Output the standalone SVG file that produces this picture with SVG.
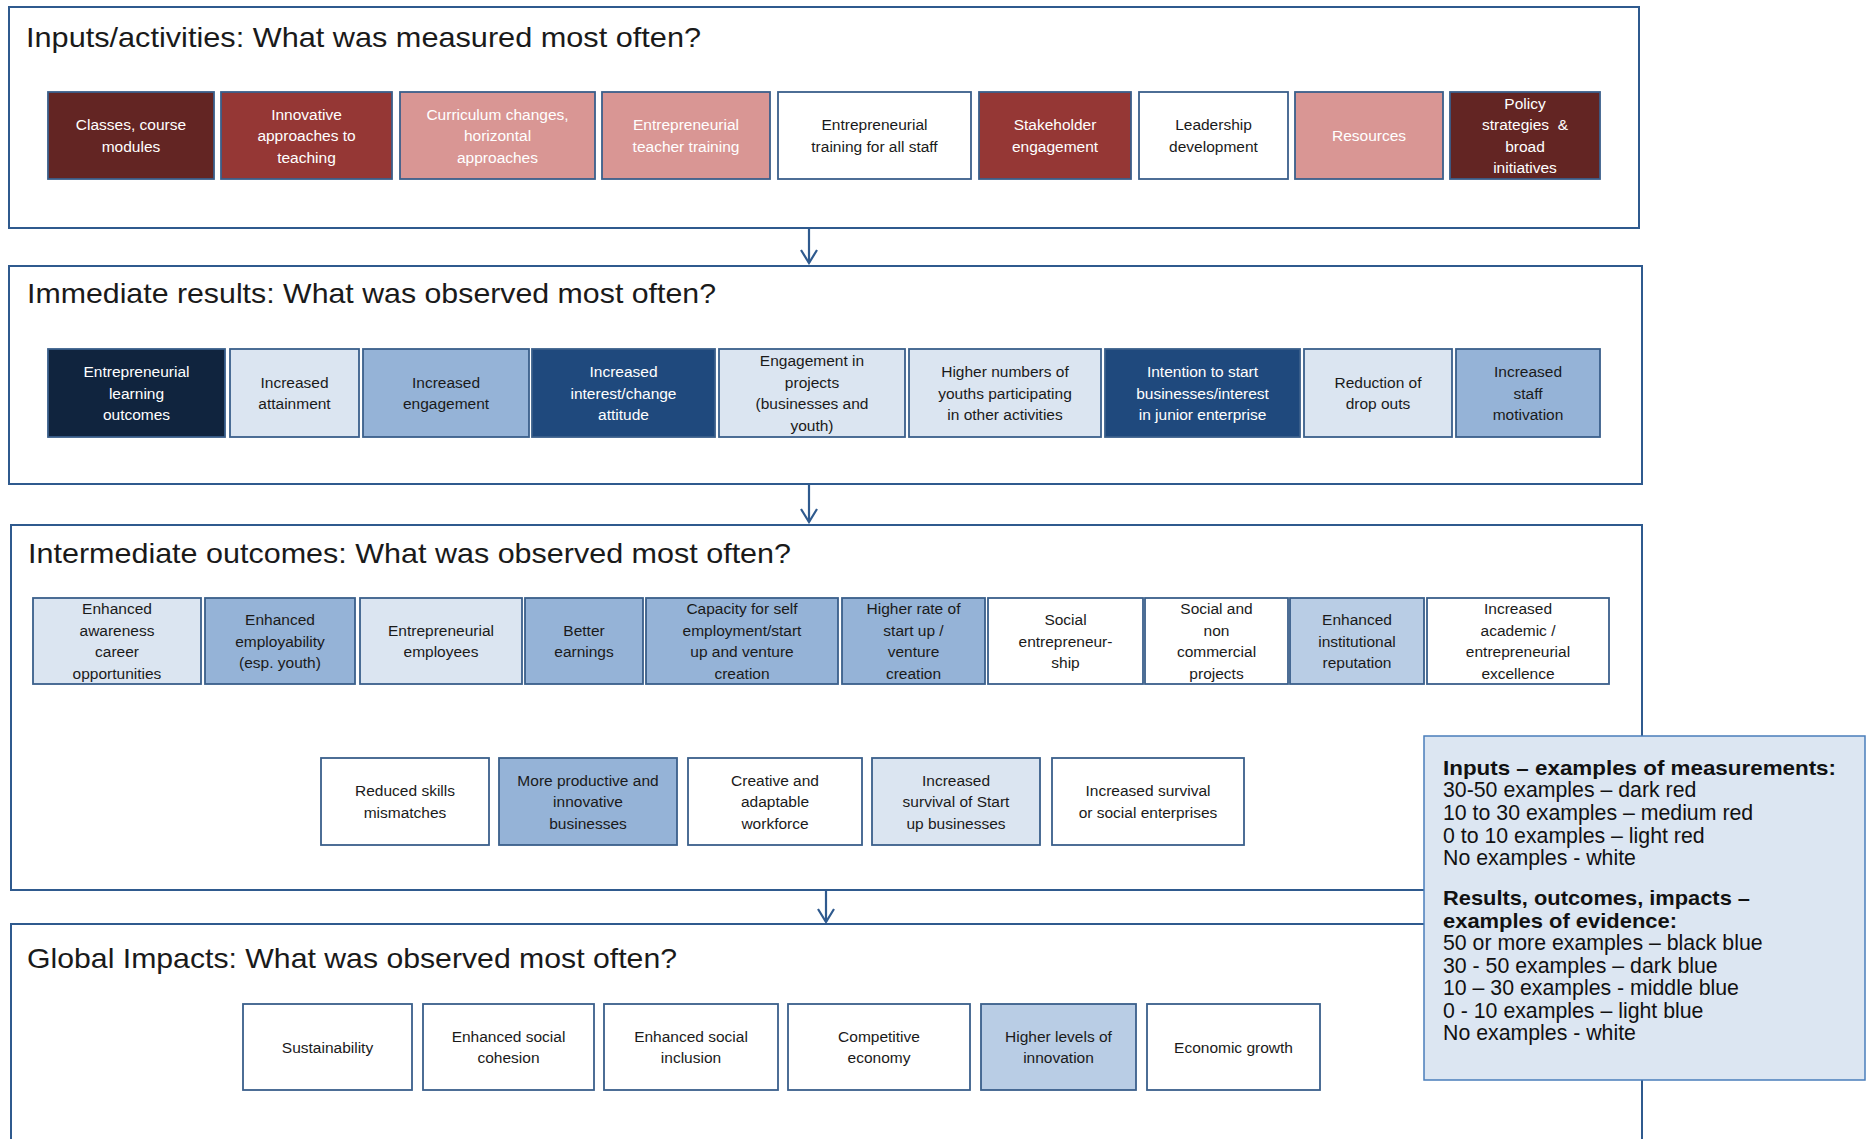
<svg xmlns="http://www.w3.org/2000/svg" width="1869" height="1139" viewBox="0 0 1869 1139">
<style>
.panel{fill:#fff;stroke:#2f5a8e;stroke-width:2}
.box{stroke:#3a5f8b;stroke-width:1.8}
.dr{fill:#632523}.mr{fill:#953735}.lr{fill:#d99694}.w{fill:#fff}
.bb{fill:#10243e}.db{fill:#1f497d}.mb{fill:#95b3d7}.lb{fill:#dbe5f1}.lb2{fill:#b9cde5}
.t{font-family:"Liberation Sans",Arial,sans-serif;font-size:15.5px;text-anchor:middle}
.tw{fill:#fff}.tk{fill:#1a1a1a}
.title{font-family:"Liberation Sans",Arial,sans-serif;font-size:28px;fill:#1a1a1a}
.conn{stroke:#2f5a8e;stroke-width:2.2;fill:none}
.leg{font-family:"Liberation Sans",Arial,sans-serif;font-size:21.3px;fill:#111}
.legb{font-weight:bold;font-size:21px}
</style>
<defs>
<marker id="arr" viewBox="0 0 16 18" refX="14" refY="9" markerWidth="16" markerHeight="18" markerUnits="userSpaceOnUse" orient="auto">
<path d="M1,1 L14,9 L1,17" fill="none" stroke="#2f5a8e" stroke-width="2.2"/>
</marker>
</defs>
<rect width="1869" height="1139" fill="#fff"/>

<g id="panels">
<g id="panel-inputs"><rect class="panel" x="9" y="7" width="1630" height="221"/><text class="title" x="26" y="47" textLength="675" lengthAdjust="spacingAndGlyphs">Inputs/activities: What was measured most often?</text></g>
<g id="panel-immediate"><rect class="panel" x="9" y="266" width="1633" height="218"/><text class="title" x="27" y="303" textLength="689" lengthAdjust="spacingAndGlyphs">Immediate results: What was observed most often?</text></g>
<g id="panel-intermediate"><rect class="panel" x="11" y="525" width="1631" height="365"/><text class="title" x="28" y="563" textLength="763" lengthAdjust="spacingAndGlyphs">Intermediate outcomes: What was observed most often?</text></g>
<g id="panel-global"><rect class="panel" x="11" y="924" width="1631" height="240"/><text class="title" x="27" y="968" textLength="650" lengthAdjust="spacingAndGlyphs">Global Impacts: What was observed most often?</text></g>
</g>

<g id="connectors">
<path class="conn" d="M809,228 L809,263" marker-end="url(#arr)"/>
<path class="conn" d="M809,484 L809,522" marker-end="url(#arr)"/>
<path class="conn" d="M826,890 L826,922" marker-end="url(#arr)"/>
</g>

<!-- Row 1 -->
<g id="n1-1"><rect class="box dr" x="48" y="92" width="166" height="87"/><text class="t tw" x="131" y="130.25">Classes, course<tspan x="131" dy="21.5">modules</tspan></text></g>
<g id="n1-2"><rect class="box mr" x="221" y="92" width="171" height="87"/><text class="t tw" x="306.5" y="119.5">Innovative<tspan x="306.5" dy="21.5">approaches to</tspan><tspan x="306.5" dy="21.5">teaching</tspan></text></g>
<g id="n1-3"><rect class="box lr" x="400" y="92" width="195" height="87"/><text class="t tw" x="497.5" y="119.5">Curriculum changes,<tspan x="497.5" dy="21.5">horizontal</tspan><tspan x="497.5" dy="21.5">approaches</tspan></text></g>
<g id="n1-4"><rect class="box lr" x="602" y="92" width="168" height="87"/><text class="t tw" x="686" y="130.25">Entrepreneurial<tspan x="686" dy="21.5">teacher training</tspan></text></g>
<g id="n1-5"><rect class="box w" x="778" y="92" width="193" height="87"/><text class="t tk" x="874.5" y="130.25">Entrepreneurial<tspan x="874.5" dy="21.5">training for all staff</tspan></text></g>
<g id="n1-6"><rect class="box mr" x="979" y="92" width="152" height="87"/><text class="t tw" x="1055" y="130.25">Stakeholder<tspan x="1055" dy="21.5">engagement</tspan></text></g>
<g id="n1-7"><rect class="box w" x="1139" y="92" width="149" height="87"/><text class="t tk" x="1213.5" y="130.25">Leadership<tspan x="1213.5" dy="21.5">development</tspan></text></g>
<g id="n1-8"><rect class="box lr" x="1295" y="92" width="148" height="87"/><text class="t tw" x="1369" y="141">Resources</text></g>
<g id="n1-9"><rect class="box dr" x="1450" y="92" width="150" height="87"/><text class="t tw" x="1525" y="108.75">Policy<tspan x="1525" dy="21.5">strategies&#160; &amp;</tspan><tspan x="1525" dy="21.5">broad</tspan><tspan x="1525" dy="21.5">initiatives</tspan></text></g>

<!-- Row 2 -->
<g id="n2-1"><rect class="box bb" x="48" y="349" width="177" height="88"/><text class="t tw" x="136.5" y="377">Entrepreneurial<tspan x="136.5" dy="21.5">learning</tspan><tspan x="136.5" dy="21.5">outcomes</tspan></text></g>
<g id="n2-2"><rect class="box lb" x="230" y="349" width="129" height="88"/><text class="t tk" x="294.5" y="387.75">Increased<tspan x="294.5" dy="21.5">attainment</tspan></text></g>
<g id="n2-3"><rect class="box mb" x="363" y="349" width="166" height="88"/><text class="t tk" x="446" y="387.75">Increased<tspan x="446" dy="21.5">engagement</tspan></text></g>
<g id="n2-4"><rect class="box db" x="532" y="349" width="183" height="88"/><text class="t tw" x="623.5" y="377">Increased<tspan x="623.5" dy="21.5">interest/change</tspan><tspan x="623.5" dy="21.5">attitude</tspan></text></g>
<g id="n2-5"><rect class="box lb" x="719" y="349" width="186" height="88"/><text class="t tk" x="812" y="366.25">Engagement in<tspan x="812" dy="21.5">projects</tspan><tspan x="812" dy="21.5">(businesses and</tspan><tspan x="812" dy="21.5">youth)</tspan></text></g>
<g id="n2-6"><rect class="box lb" x="909" y="349" width="192" height="88"/><text class="t tk" x="1005" y="377">Higher numbers of<tspan x="1005" dy="21.5">youths participating</tspan><tspan x="1005" dy="21.5">in other activities</tspan></text></g>
<g id="n2-7"><rect class="box db" x="1105" y="349" width="195" height="88"/><text class="t tw" x="1202.5" y="377">Intention to start<tspan x="1202.5" dy="21.5">businesses/interest</tspan><tspan x="1202.5" dy="21.5">in junior enterprise</tspan></text></g>
<g id="n2-8"><rect class="box lb" x="1304" y="349" width="148" height="88"/><text class="t tk" x="1378" y="387.75">Reduction of<tspan x="1378" dy="21.5">drop outs</tspan></text></g>
<g id="n2-9"><rect class="box mb" x="1456" y="349" width="144" height="88"/><text class="t tk" x="1528" y="377">Increased<tspan x="1528" dy="21.5">staff</tspan><tspan x="1528" dy="21.5">motivation</tspan></text></g>

<!-- Row 3a -->
<g id="n3-1"><rect class="box lb" x="33" y="598" width="168" height="86"/><text class="t tk" x="117" y="614.25">Enhanced<tspan x="117" dy="21.5">awareness</tspan><tspan x="117" dy="21.5">career</tspan><tspan x="117" dy="21.5">opportunities</tspan></text></g>
<g id="n3-2"><rect class="box mb" x="205" y="598" width="150" height="86"/><text class="t tk" x="280" y="625">Enhanced<tspan x="280" dy="21.5">employability</tspan><tspan x="280" dy="21.5">(esp. youth)</tspan></text></g>
<g id="n3-3"><rect class="box lb" x="360" y="598" width="162" height="86"/><text class="t tk" x="441" y="635.75">Entrepreneurial<tspan x="441" dy="21.5">employees</tspan></text></g>
<g id="n3-4"><rect class="box mb" x="525" y="598" width="118" height="86"/><text class="t tk" x="584" y="635.75">Better<tspan x="584" dy="21.5">earnings</tspan></text></g>
<g id="n3-5"><rect class="box mb" x="646" y="598" width="192" height="86"/><text class="t tk" x="742" y="614.25">Capacity for self<tspan x="742" dy="21.5">employment/start</tspan><tspan x="742" dy="21.5">up and venture</tspan><tspan x="742" dy="21.5">creation</tspan></text></g>
<g id="n3-6"><rect class="box mb" x="842" y="598" width="143" height="86"/><text class="t tk" x="913.5" y="614.25">Higher rate of<tspan x="913.5" dy="21.5">start up /</tspan><tspan x="913.5" dy="21.5">venture</tspan><tspan x="913.5" dy="21.5">creation</tspan></text></g>
<g id="n3-7"><rect class="box w" x="988" y="598" width="155" height="86"/><text class="t tk" x="1065.5" y="625">Social<tspan x="1065.5" dy="21.5">entrepreneur-</tspan><tspan x="1065.5" dy="21.5">ship</tspan></text></g>
<g id="n3-8"><rect class="box w" x="1145" y="598" width="143" height="86"/><text class="t tk" x="1216.5" y="614.25">Social and<tspan x="1216.5" dy="21.5">non</tspan><tspan x="1216.5" dy="21.5">commercial</tspan><tspan x="1216.5" dy="21.5">projects</tspan></text></g>
<g id="n3-9"><rect class="box lb2" x="1290" y="598" width="134" height="86"/><text class="t tk" x="1357" y="625">Enhanced<tspan x="1357" dy="21.5">institutional</tspan><tspan x="1357" dy="21.5">reputation</tspan></text></g>
<g id="n3-10"><rect class="box w" x="1427" y="598" width="182" height="86"/><text class="t tk" x="1518" y="614.25">Increased<tspan x="1518" dy="21.5">academic /</tspan><tspan x="1518" dy="21.5">entrepreneurial</tspan><tspan x="1518" dy="21.5">excellence</tspan></text></g>

<!-- Row 3b -->
<g id="n3-11"><rect class="box w" x="321" y="758" width="168" height="87"/><text class="t tk" x="405" y="796.25">Reduced skills<tspan x="405" dy="21.5">mismatches</tspan></text></g>
<g id="n3-12"><rect class="box mb" x="499" y="758" width="178" height="87"/><text class="t tk" x="588" y="785.5">More productive and<tspan x="588" dy="21.5">innovative</tspan><tspan x="588" dy="21.5">businesses</tspan></text></g>
<g id="n3-13"><rect class="box w" x="688" y="758" width="174" height="87"/><text class="t tk" x="775" y="785.5">Creative and<tspan x="775" dy="21.5">adaptable</tspan><tspan x="775" dy="21.5">workforce</tspan></text></g>
<g id="n3-14"><rect class="box lb" x="872" y="758" width="168" height="87"/><text class="t tk" x="956" y="785.5">Increased<tspan x="956" dy="21.5">survival of Start</tspan><tspan x="956" dy="21.5">up businesses</tspan></text></g>
<g id="n3-15"><rect class="box w" x="1052" y="758" width="192" height="87"/><text class="t tk" x="1148" y="796.25">Increased survival<tspan x="1148" dy="21.5">or social enterprises</tspan></text></g>

<!-- Row 4 -->
<g id="n4-1"><rect class="box w" x="243" y="1004" width="169" height="86"/><text class="t tk" x="327.5" y="1052.5">Sustainability</text></g>
<g id="n4-2"><rect class="box w" x="423" y="1004" width="171" height="86"/><text class="t tk" x="508.5" y="1041.75">Enhanced social<tspan x="508.5" dy="21.5">cohesion</tspan></text></g>
<g id="n4-3"><rect class="box w" x="604" y="1004" width="174" height="86"/><text class="t tk" x="691" y="1041.75">Enhanced social<tspan x="691" dy="21.5">inclusion</tspan></text></g>
<g id="n4-4"><rect class="box w" x="788" y="1004" width="182" height="86"/><text class="t tk" x="879" y="1041.75">Competitive<tspan x="879" dy="21.5">economy</tspan></text></g>
<g id="n4-5"><rect class="box lb2" x="981" y="1004" width="155" height="86"/><text class="t tk" x="1058.5" y="1041.75">Higher levels of<tspan x="1058.5" dy="21.5">innovation</tspan></text></g>
<g id="n4-6"><rect class="box w" x="1147" y="1004" width="173" height="86"/><text class="t tk" x="1233.5" y="1052.5">Economic growth</text></g>

<!-- Legend -->
<g id="legend">
<rect x="1424" y="736" width="441" height="344" fill="#dce6f2" stroke="#4a7ebb" stroke-width="1.5"/>
<text class="leg legb" x="1443" y="775" textLength="393" lengthAdjust="spacingAndGlyphs">Inputs – examples of measurements:</text>
<text class="leg" x="1443" y="797">30-50 examples – dark red</text>
<text class="leg" x="1443" y="820">10 to 30 examples – medium red</text>
<text class="leg" x="1443" y="843">0 to 10 examples – light red</text>
<text class="leg" x="1443" y="865">No examples - white</text>
<text class="leg legb" x="1443" y="905" textLength="307" lengthAdjust="spacingAndGlyphs">Results, outcomes, impacts –</text>
<text class="leg legb" x="1443" y="928" textLength="234" lengthAdjust="spacingAndGlyphs">examples of evidence:</text>
<text class="leg" x="1443" y="950">50 or more examples – black blue</text>
<text class="leg" x="1443" y="973">30 - 50 examples – dark blue</text>
<text class="leg" x="1443" y="995">10 – 30 examples - middle blue</text>
<text class="leg" x="1443" y="1018">0 - 10 examples – light blue</text>
<text class="leg" x="1443" y="1040">No examples - white</text>
</g>
</svg>
